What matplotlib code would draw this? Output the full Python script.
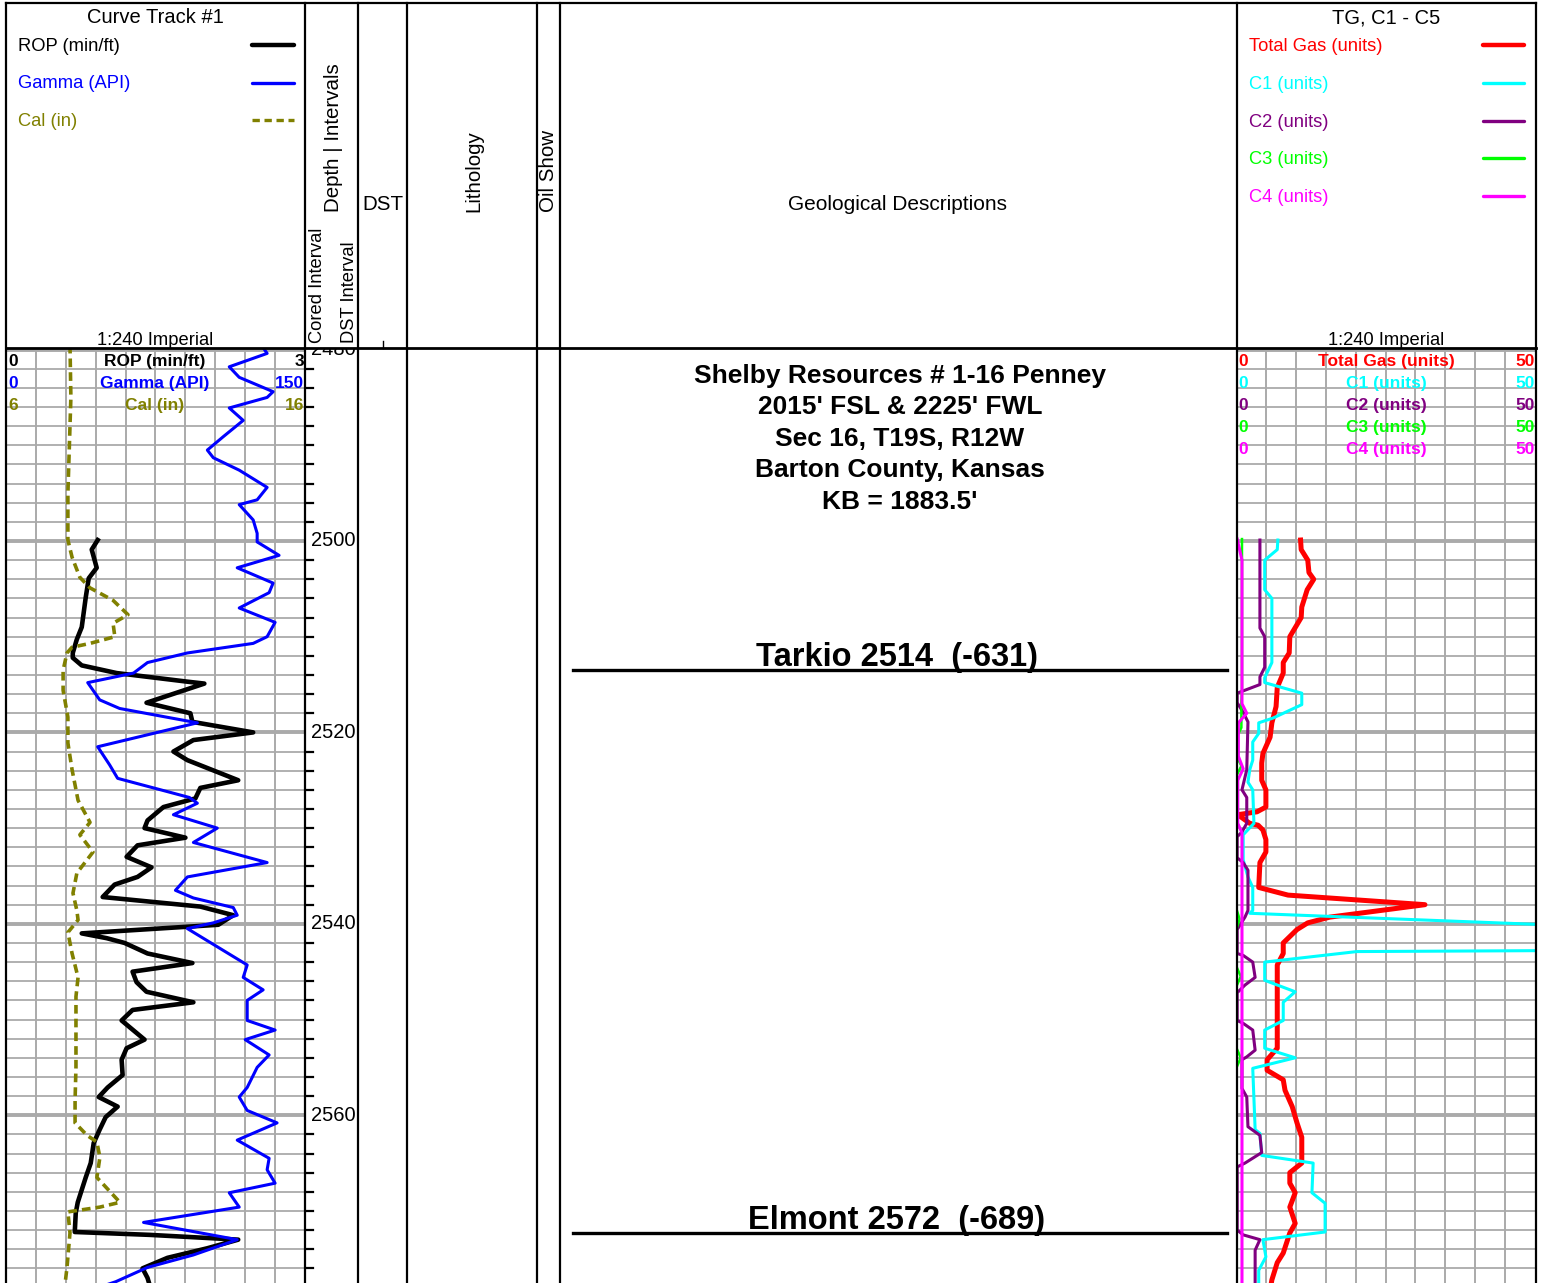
import matplotlib
matplotlib.use('Agg')
import matplotlib.pyplot as plt
import numpy as np

W, H = 1549, 1283
plt.rcParams['font.family'] = ['Liberation Sans', 'DejaVu Sans']

# ---- curve data: (depth ft, value) ----
rop_log = [(2499.9, 0.92), (2500.9, 0.86), (2502.8, 0.91), (2503.9, 0.83), (2505.9, 0.80),
           (2509.0, 0.76), (2510.3, 0.71), (2511.7, 0.67), (2512.2, 0.67), (2513.0, 0.76),
           (2513.8, 1.11), (2514.7, 1.82), (2514.9, 1.99), (2516.9, 1.41), (2518.0, 1.85),
           (2518.9, 1.87), (2520.0, 2.48), (2520.8, 1.88), (2522.0, 1.68), (2522.9, 1.82),
           (2525.0, 2.33), (2525.8, 1.95), (2526.9, 1.90), (2527.8, 1.58), (2529.2, 1.42),
           (2530.0, 1.39), (2531.0, 1.80), (2531.8, 1.32), (2533.0, 1.21), (2534.1, 1.46),
           (2535.1, 1.32), (2535.9, 1.09), (2537.2, 0.97), (2538.2, 1.95), (2539.1, 2.28),
           (2540.1, 2.13), (2541.0, 0.76), (2541.5, 1.01), (2542.0, 1.19), (2543.1, 1.42),
           (2544.1, 1.87), (2545.0, 1.27), (2546.1, 1.31), (2547.1, 1.41), (2548.2, 1.88),
           (2549.0, 1.27), (2550.1, 1.16), (2552.1, 1.39), (2553.0, 1.21), (2554.2, 1.16),
           (2555.8, 1.17), (2557.1, 1.02), (2558.1, 0.93), (2559.1, 1.12), (2560.2, 1.00),
           (2561.5, 0.94), (2562.9, 0.88), (2565.0, 0.85), (2566.5, 0.80), (2569.1, 0.72),
           (2570.2, 0.70), (2572.2, 0.69), (2572.5, 1.44), (2573.0, 2.33), (2573.9, 2.02),
           (2574.9, 1.62), (2576.0, 1.37), (2577.0, 1.42), (2577.7, 1.44)]

gamma_log = [(2479.5, 128), (2480.4, 131), (2481.8, 112), (2482.9, 117), (2484.4, 134), (2485.0, 131),
             (2486.1, 112), (2487.4, 119), (2489.1, 109), (2490.5, 101), (2491.3, 104),
             (2492.6, 117), (2494.4, 131), (2495.7, 126), (2496.2, 117), (2497.8, 124),
             (2499.2, 126), (2500.1, 126), (2501.5, 137), (2502.8, 116), (2504.4, 134),
             (2505.4, 132), (2507.0, 117), (2508.5, 135), (2510.0, 131), (2510.7, 124),
             (2511.7, 91), (2512.7, 71), (2513.8, 64), (2514.8, 41), (2516.6, 47),
             (2517.5, 57), (2519.0, 96), (2519.5, 86), (2521.5, 46), (2523.4, 52),
             (2524.8, 56), (2526.8, 92), (2527.4, 96), (2528.6, 84), (2530.0, 106),
             (2531.5, 94), (2533.6, 131), (2535.1, 91), (2536.5, 85), (2537.3, 94),
             (2538.3, 114), (2539.1, 116), (2539.9, 104), (2540.5, 91), (2542.4, 106),
             (2544.3, 121), (2545.6, 119), (2546.9, 129), (2548.0, 121), (2550.1, 121),
             (2551.1, 135), (2552.1, 120), (2553.7, 132), (2555.0, 126), (2557.1, 121),
             (2558.1, 117), (2559.5, 121), (2560.8, 136), (2562.6, 116), (2564.5, 132),
             (2565.7, 131), (2567.1, 135), (2568.1, 112), (2569.6, 117), (2571.2, 69),
             (2573.0, 116), (2574.6, 94), (2575.9, 71), (2577.4, 55), (2578.3, 42)]

cal_log = [(2479.5, 8.14), (2485.0, 8.17), (2490.0, 8.12), (2495.0, 8.07), (2499.9, 8.07),
           (2501.7, 8.21), (2503.8, 8.47), (2504.9, 8.81), (2506.2, 9.58), (2507.7, 10.08),
           (2508.6, 9.58), (2510.0, 9.64), (2510.7, 8.81), (2511.1, 8.21), (2511.7, 8.04),
           (2513.5, 7.91), (2515.6, 7.91), (2518.4, 8.07), (2521.1, 8.07), (2523.9, 8.21),
           (2527.1, 8.41), (2529.4, 8.81), (2530.7, 8.47), (2532.5, 8.91), (2534.7, 8.37),
           (2536.8, 8.24), (2538.6, 8.37), (2539.6, 8.41), (2540.9, 8.07), (2543.1, 8.21),
           (2545.6, 8.41), (2547.6, 8.34), (2551.4, 8.34), (2555.0, 8.34), (2558.4, 8.31),
           (2560.8, 8.31), (2562.1, 8.71), (2562.8, 9.04), (2564.4, 9.14), (2566.5, 9.04),
           (2569.1, 9.81), (2569.6, 9.14), (2570.1, 8.07), (2572.3, 8.14), (2575.9, 8.04),
           (2578.3, 7.95)]

tg_log = [(2499.9, 10.8), (2500.9, 10.9), (2502.0, 12.0), (2503.3, 12.2), (2504.0, 13.0),
          (2505.1, 11.9), (2506.9, 11.0), (2508.0, 10.9), (2510.0, 9.0), (2511.7, 8.9),
          (2512.7, 7.9), (2513.8, 7.9), (2515.3, 6.9), (2517.3, 6.7), (2519.0, 6.0),
          (2520.5, 5.7), (2522.2, 4.5), (2523.2, 4.3), (2525.0, 4.3), (2526.0, 5.0),
          (2527.8, 5.0), (2528.3, 3.5), (2528.6, 0.3), (2529.5, 2.3), (2529.7, 3.7),
          (2530.2, 4.5), (2531.2, 5.0), (2532.5, 5.0), (2533.6, 4.0), (2536.2, 3.8),
          (2537.0, 8.7), (2538.0, 31.6), (2539.3, 15.7), (2539.9, 12.0), (2540.6, 10.2),
          (2542.0, 7.9), (2543.1, 7.9), (2544.3, 6.9), (2553.0, 6.9), (2554.2, 5.2),
          (2555.3, 5.2), (2556.3, 7.9), (2557.4, 8.2), (2559.1, 9.4), (2560.8, 10.2),
          (2562.3, 11.0), (2565.0, 11.0), (2566.0, 9.0), (2567.1, 9.0), (2568.1, 9.9),
          (2569.6, 9.0), (2571.3, 9.9), (2572.3, 9.0), (2574.4, 7.9), (2575.4, 6.9),
          (2577.2, 6.0), (2578.3, 5.7)]

c1_log = [(2499.9, 7.0), (2500.9, 6.9), (2502.0, 4.8), (2505.1, 4.8), (2506.0, 6.0),
          (2512.7, 6.0), (2514.3, 4.8), (2514.8, 4.8), (2515.9, 11.0), (2517.1, 11.0),
          (2518.5, 6.2), (2519.0, 3.8), (2520.1, 3.8), (2521.0, 2.8), (2522.9, 2.8),
          (2523.9, 2.3), (2525.2, 2.0), (2526.0, 2.8), (2529.5, 3.0), (2530.7, 1.2),
          (2533.3, 1.2), (2535.1, 2.0), (2536.2, 2.8), (2538.6, 2.8), (2538.9, 2.3),
          (2540.1, 52.0), (2542.8, 52.0), (2542.9, 20.2), (2544.0, 4.8), (2545.9, 4.8),
          (2547.1, 9.9), (2548.2, 7.9), (2550.1, 7.9), (2551.1, 4.8), (2553.0, 4.8),
          (2554.0, 9.9), (2555.1, 2.8), (2561.5, 3.2), (2561.9, 4.0), (2564.2, 4.3),
          (2565.0, 12.9), (2568.1, 12.7), (2569.2, 14.9), (2572.2, 14.9), (2573.0, 4.5),
          (2574.8, 5.0), (2576.2, 3.8), (2578.3, 3.8)]

c2_log = [(2499.9, 4.0), (2509.1, 4.0), (2510.0, 4.8), (2513.2, 4.8), (2514.2, 4.0),
          (2515.0, 4.0), (2515.9, 0.2), (2516.9, 0.2), (2517.9, 1.2), (2518.9, 2.0),
          (2523.9, 1.8), (2526.0, 1.0), (2526.8, 1.8), (2529.5, 1.8), (2530.4, 1.0),
          (2530.9, 0.2), (2533.1, 0.2), (2533.6, 1.2), (2534.4, 2.0), (2538.6, 2.0),
          (2539.3, 1.5), (2540.6, 0.2), (2543.1, 0.2), (2543.3, 1.2), (2544.0, 2.8),
          (2545.6, 3.2), (2546.4, 1.5), (2547.2, 0.2), (2550.1, 0.2), (2550.4, 1.2),
          (2551.1, 2.8), (2553.2, 3.2), (2553.9, 1.8), (2554.2, 1.0), (2557.2, 1.0),
          (2558.1, 1.8), (2561.2, 2.0), (2562.1, 4.0), (2563.9, 4.3), (2565.0, 1.5),
          (2565.4, 0.2), (2572.0, 0.2), (2572.5, 1.2), (2573.0, 4.0), (2574.1, 3.2),
          (2578.3, 3.2)]

c3_log = [(2499.8, 1.0), (2515.5, 1.0), (2517.0, 0.9), (2519.5, 0.9), (2520.5, 0.1),
          (2522.5, 0.1), (2523.5, 0.9), (2524.5, 0.1), (2538.5, 0.1), (2539.5, 0.6),
          (2540.5, 0.1), (2544.5, 0.1), (2545.5, 0.8), (2546.5, 0.1), (2553.0, 0.1),
          (2554.0, 0.8), (2555.0, 0.1), (2578.3, 0.1)]

c4_log = [(2499.8, 0.2), (2502.0, 1.0), (2517.0, 1.0), (2518.0, 1.8), (2519.0, 0.4),
          (2522.5, 0.4), (2523.8, 1.2), (2525.0, 0.3), (2529.5, 0.3), (2530.5, 1.0),
          (2578.3, 1.0)]

tops_labels = ['Tarkio 2514  (-631)', 'Elmont 2572  (-689)']
tops_depths = [2513.5, 2572.3]

well_header = ['Shelby Resources # 1-16 Penney', "2015' FSL & 2225' FWL",
               'Sec 16, T19S, R12W', 'Barton County, Kansas', "KB = 1883.5'"]

left_curves = ['ROP (min/ft)', 'Gamma (API)', 'Cal (in)']
left_colors = ['black', '#0000ff', '#808000']
left_ranges = [(0, 3), (0, 150), (6, 16)]
gas_curves = ['Total Gas (units)', 'C1 (units)', 'C2 (units)', 'C3 (units)', 'C4 (units)']
gas_colors = ['#ff0000', '#00ffff', '#800080', '#00ff00', '#ff00ff']
depth_labels = [2480, 2500, 2520, 2540, 2560]

GRID = '#aaaaaa'
D_TOP, D_BOT = 2479.94, 2577.53
Y0 = 349

fig = plt.figure(figsize=(W / 100, H / 100), dpi=100)


def px_box(x0, y0, x1, y1):
    return [x0 / W, 1 - y1 / H, (x1 - x0) / W, (y1 - y0) / H]


def track(x0, x1, lo, hi, grid=True):
    ax = fig.add_axes(px_box(x0, Y0, x1, H))
    ax.set_xlim(lo, hi)
    ax.set_ylim(D_BOT, D_TOP)
    ax.axis('off')
    if grid:
        for v in np.linspace(lo, hi, 11)[1:-1]:
            ax.axvline(v, color=GRID, lw=1.4, zorder=1)
        for d in np.arange(2480, 2580, 2):
            ax.axhline(d, color=GRID, lw=2.8 if d % 20 == 0 else 1.3, zorder=1)
    return ax


def curve(ax, log, **kw):
    d, v = zip(*log)
    ax.plot(v, d, zorder=3, **kw)


# left curve track
ax_rop = track(6, 305, *left_ranges[0])
ax_gam = ax_rop.twiny()
ax_gam.set_xlim(*left_ranges[1]); ax_gam.axis('off')
ax_cal = ax_rop.twiny()
ax_cal.set_xlim(*left_ranges[2]); ax_cal.axis('off')
curve(ax_cal, cal_log, color=left_colors[2], lw=2.6, ls=(0, (2.4, 1.4)))
curve(ax_rop, rop_log, color=left_colors[0], lw=3.3, solid_joinstyle='round')
curve(ax_gam, gamma_log, color=left_colors[1], lw=2.2, solid_joinstyle='round')

# depth column
ax_d = track(305, 358, 0, 1, grid=False)
for d in np.arange(2480, 2580, 2):
    if d not in depth_labels:
        ax_d.plot([0, 0.16], [d, d], color='black', lw=1.6, zorder=3)
for d in depth_labels:
    ax_d.text(0.11, d, str(d), ha='left', va='center', fontsize=14.5, clip_on=True)

# geological descriptions: formation tops
ax_geo = track(560, 1237, 560, 1237, grid=False)
for lab, d in zip(tops_labels, tops_depths):
    ax_geo.plot([573, 1227], [d, d], color='black', lw=2.4, zorder=3)
    ax_geo.annotate(lab, (897, d), xytext=(0, 3), textcoords='offset points',
                    ha='center', va='baseline', fontsize=23.5, fontweight='bold')

# gas track
ax_gas = track(1236, 1535, 0, 50)
curve(ax_gas, tg_log, color=gas_colors[0], lw=3.6)
curve(ax_gas, c1_log, color=gas_colors[1], lw=2.2)
curve(ax_gas, c2_log, color=gas_colors[2], lw=2.2)
curve(ax_gas, c3_log, color=gas_colors[3], lw=1.8)
curve(ax_gas, c4_log, color=gas_colors[4], lw=2.2)

# frame, header and labels in pixel space
fr = fig.add_axes([0, 0, 1, 1], zorder=10)
fr.set_xlim(0, W); fr.set_ylim(H, 0); fr.axis('off')

fr.plot([6, 1536], [3, 3], color='black', lw=1.6)
fr.plot([6, 1536], [348, 348], color='black', lw=2.0)
for x in [6, 305, 358, 407, 537, 560, 1237, 1536]:
    fr.plot([x, x], [3, H], color='black', lw=1.6)
fr.plot([383, 383], [341, 348], color='black', lw=1)

fr.text(155, 23, 'Curve Track #1', ha='center', va='baseline', fontsize=14.5)
fr.text(1386, 23, 'TG, C1 - C5', ha='center', va='baseline', fontsize=14.5)
fr.text(155, 345, '1:240 Imperial', ha='center', va='baseline', fontsize=13.2)
fr.text(1386, 345, '1:240 Imperial', ha='center', va='baseline', fontsize=13.2)

for i, (name, col) in enumerate(zip(left_curves, left_colors)):
    y = 45 + i * 37.5
    fr.text(18, y + 6, name, color=col, fontsize=13.2, va='baseline')
    fr.plot([252, 294], [y, y], color=col, lw=3.2 if i == 0 else 2.4,
            ls='-' if i < 2 else (0, (2.2, 1.4)), solid_capstyle='round')
    lo, hi = left_ranges[i]
    yb = 366 + i * 22
    fr.text(8, yb, str(lo), color=col, fontsize=12.5, fontweight='bold', va='baseline')
    fr.text(155, yb, name, color=col, fontsize=12.5, fontweight='bold', va='baseline', ha='center')
    fr.text(304, yb, str(hi), color=col, fontsize=12.5, fontweight='bold', va='baseline', ha='right')

for i, (name, col) in enumerate(zip(gas_curves, gas_colors)):
    y = 45 + i * 37.8
    fr.text(1249, y + 6, name, color=col, fontsize=13.2, va='baseline')
    fr.plot([1483, 1524], [y, y], color=col, lw=3.2 if i == 0 else 2.4, solid_capstyle='round')
    yb = 366 + i * 22
    fr.text(1238, yb, '0', color=col, fontsize=12.5, fontweight='bold', va='baseline')
    fr.text(1386, yb, name, color=col, fontsize=12.5, fontweight='bold', va='baseline', ha='center')
    fr.text(1535, yb, '50', color=col, fontsize=12.5, fontweight='bold', va='baseline', ha='right')

fr.text(334, 212, 'Depth | Intervals', rotation=90, ha='center', va='bottom', fontsize=14.8)
fr.text(318, 343, 'Cored Interval', rotation=90, ha='center', va='bottom', fontsize=13.2)
fr.text(350, 343, 'DST Interval', rotation=90, ha='center', va='bottom', fontsize=13.2)
fr.text(362, 210, 'DST', ha='left', va='baseline', fontsize=14.8)
fr.text(474, 212, 'Lithology', rotation=90, ha='center', va='bottom', fontsize=14.8)
fr.text(549, 212, 'Oil Show', rotation=90, ha='center', va='bottom', fontsize=14.8)
fr.text(898, 210, 'Geological Descriptions', ha='center', va='baseline', fontsize=15)

for i, line in enumerate(well_header):
    fr.text(900, 383 + i * 31.5, line, ha='center', va='baseline', fontsize=19, fontweight='bold')

fig.savefig('out.png', dpi=100)
